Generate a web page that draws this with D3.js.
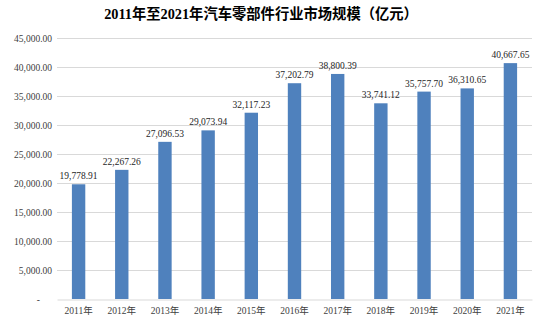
<!DOCTYPE html>
<html>
<head>
<meta charset="utf-8">
<script src="https://cdn.jsdelivr.net/npm/d3@7"></script>
<style>
  html, body { margin: 0; padding: 0; background: #fff; }
  svg { display: block; }
</style>
</head>
<body>
<script>
// Automotive parts industry market size, 2011–2021 (100 million yuan)
const years = ["2011年", "2012年", "2013年", "2014年", "2015年", "2016年", "2017年", "2018年", "2019年", "2020年", "2021年"];
const values = [19778.91, 22267.26, 27096.53, 29073.94, 32117.23, 37202.79, 38800.39, 33741.12, 35757.70, 36310.65, 40667.65];
const yTicks = [0, 5000, 10000, 15000, 20000, 25000, 30000, 35000, 40000, 45000];
const titleText = "2011年至2021年汽车零部件行业市场规模（亿元）";

const W = 542, H = 322;
const margin = { top: 38, right: 10, bottom: 23, left: 57 };
const serif = "'Liberation Serif', 'Times New Roman', 'Noto Sans CJK SC', serif";

const svg = d3.select("body").append("svg")
  .attr("width", W).attr("height", H);

svg.append("rect").attr("width", W).attr("height", H).attr("fill", "#fff");

const x = d3.scaleBand()
  .domain(years)
  .range([margin.left, W - margin.right])
  .paddingInner(0.69)
  .paddingOuter(0.345);

const y = d3.scaleLinear()
  .domain([0, 45000])
  .range([H - margin.bottom, margin.top]);

const fmt = d3.format(",.2f");

// Title
svg.append("text")
  .attr("x", 261).attr("y", 19)
  .attr("text-anchor", "middle")
  .attr("font-family", serif)
  .attr("font-weight", "bold")
  .attr("font-size", 14.3)
  .attr("fill", "#000")
  .text(titleText);

// Horizontal grid lines
svg.append("g")
  .selectAll("line")
  .data(yTicks.filter(d => d > 0))
  .join("line")
  .attr("x1", margin.left).attr("x2", W - margin.right)
  .attr("y1", d => Math.round(y(d)) + 0.5).attr("y2", d => Math.round(y(d)) + 0.5)
  .attr("stroke", "#d9d9d9").attr("stroke-width", 1);

// Y axis labels
const yAxis = d3.axisLeft(y)
  .tickValues(yTicks)
  .tickSize(0)
  .tickPadding(4)
  .tickFormat(d => d === 0 ? "-" : fmt(d));

const gy = svg.append("g")
  .attr("transform", `translate(${margin.left - 1},0)`)
  .call(yAxis);
gy.select(".domain").remove();
gy.selectAll("text")
  .attr("font-family", serif)
  .attr("font-size", 9.5)
  .attr("fill", "#404040");
gy.selectAll(".tick").filter(d => d === 0).select("text")
  .attr("dx", -12);

// Bars
svg.append("g")
  .selectAll("rect")
  .data(years.map((yr, i) => ({ yr, v: values[i] })))
  .join("rect")
  .attr("x", d => x(d.yr))
  .attr("y", d => y(d.v))
  .attr("width", x.bandwidth())
  .attr("height", d => y(0) - y(d.v))
  .attr("fill", "#4f81bd");

// Value labels
svg.append("g")
  .selectAll("text")
  .data(years.map((yr, i) => ({ yr, v: values[i] })))
  .join("text")
  .attr("x", d => x(d.yr) + x.bandwidth() / 2)
  .attr("y", d => y(d.v) - 5)
  .attr("text-anchor", "middle")
  .attr("font-family", serif)
  .attr("font-size", 9.5)
  .attr("fill", "#262626")
  .text(d => fmt(d.v));

// X axis
const xAxis = d3.axisBottom(x).tickSize(0).tickPadding(8);
const gx = svg.append("g")
  .attr("transform", `translate(0,${Math.round(y(0)) + 0.5})`)
  .call(xAxis);
gx.select(".domain").attr("stroke", "#d9d9d9");
gx.selectAll("text")
  .attr("font-family", serif)
  .attr("font-size", 9.5)
  .attr("fill", "#404040");
</script>
</body>
</html>
